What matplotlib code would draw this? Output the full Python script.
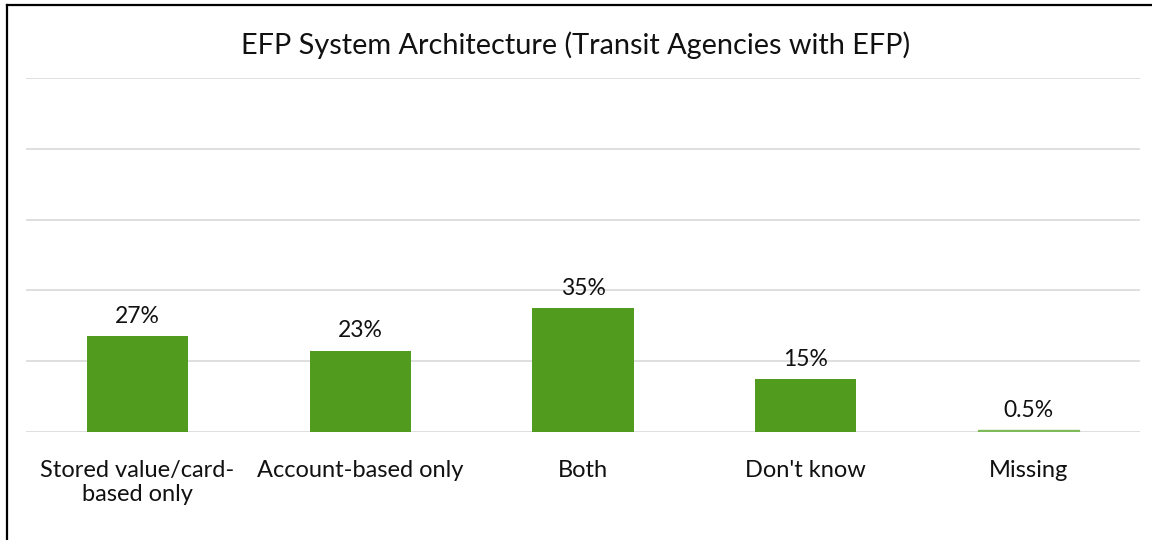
import matplotlib
matplotlib.use("Agg")
import matplotlib.pyplot as plt
from matplotlib.lines import Line2D

categories = ["Stored value/card-\nbased only", "Account-based only", "Both", "Don't know", "Missing"]
shares = [27, 23, 35, 15, 0.5]
share_labels = ["27%", "23%", "35%", "15%", "0.5%"]
yticks = [0, 20, 40, 60, 80, 100]

W, H = 1152, 540
plt.rcParams["font.family"] = ["Lato", "DejaVu Sans"]

fig = plt.figure(figsize=(W / 100, H / 100), dpi=100)
fig.patch.set_facecolor("white")

# plot area in pixel terms -> figure fractions
left, right, top, base = 26, 1140, 78, 432
ax = fig.add_axes([left / W, 1 - base / H, (right - left) / W, (base - top) / H])

x = range(len(categories))
bars = ax.bar(x, shares, width=0.455, color="#519C1F", zorder=3)
bars[-1].set_color("#7DBA5A")

for rect, lab in zip(bars, share_labels):
    ax.text(rect.get_x() + rect.get_width() / 2, rect.get_height() + 2.6, lab,
            ha="center", va="bottom", fontsize=16.5, color="#111111")

ax.set_xlim(-0.5, len(categories) - 0.5)
ax.set_ylim(0, 100)
ax.set_yticks(yticks)
ax.yaxis.grid(True, color="#D9D9D9", linewidth=1.2, zorder=0)
ax.tick_params(axis="y", left=False, labelleft=False)
ax.tick_params(axis="x", length=0, pad=20)
ax.set_xticks(list(x))
ax.set_xticklabels(categories, fontsize=17, color="#111111", linespacing=1.2)
for t in ax.get_xticklabels():
    t.set_verticalalignment("top")
for s in ax.spines.values():
    s.set_visible(False)

fig.text(0.5, 1 - 45 / H, "EFP System Architecture (Transit Agencies with EFP)",
         ha="center", va="center", fontsize=20.8, color="#111111")

# chart frame, clipped on right and bottom
fig.add_artist(Line2D([7 / W, 7 / W], [0, 1 - 5 / H], color="black", linewidth=1.6,
                      transform=fig.transFigure))
fig.add_artist(Line2D([7 / W, 1], [1 - 5 / H, 1 - 5 / H], color="black", linewidth=1.6,
                      transform=fig.transFigure))

fig.savefig("out.png", dpi=100)
